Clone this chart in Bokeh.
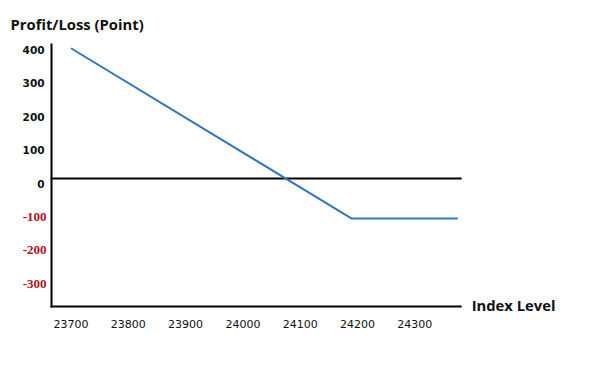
from bokeh.plotting import figure
from bokeh.models import Range1d
from bokeh.core.properties import value
from bokeh.embed import file_html
from bokeh.resources import INLINE

# data
index_level = [23700, 24190, 24375]
profit_loss = [390, -120, -120]
x_ticks = [23700, 23800, 23900, 24000, 24100, 24200, 24300]
y_pos_ticks = [400, 300, 200, 100, 0]
y_neg_ticks = [-100, -200, -300]
title_text = "Profit/Loss (Point)"
x_title_text = "Index Level"

# axis extents (data units) and the visible window around them
AX_X0, AX_X1 = 23666, 24380
AX_Y0, AX_Y1 = -383, 401
VIEW_X = (23577, 24601.4)
VIEW_Y = (-521, 533)

p = figure(width=587, height=352, output_backend="svg", toolbar_location=None,
           x_range=Range1d(*VIEW_X), y_range=Range1d(*VIEW_Y),
           min_border=0)
p.outline_line_color = None
p.xgrid.visible = False
p.ygrid.visible = False
p.axis.visible = False
p.background_fill_color = "white"
p.border_fill_color = "white"

# axes and zero line
p.segment(x0=[AX_X0, AX_X0, AX_X0], y0=[AX_Y0, AX_Y0, 0],
          x1=[AX_X0, AX_X1, AX_X1], y1=[AX_Y1, AX_Y0, 0],
          line_color="black", line_width=2, line_cap="square")

# P/L line
p.line(index_level, profit_loss, line_color="#2f78c4", line_width=2)

# x tick labels
p.text(x=x_ticks, y=[AX_Y0] * len(x_ticks), text=[str(v) for v in x_ticks],
       text_align="center", text_baseline="top", y_offset=14,
       text_font=value("DejaVu Sans"), text_font_size="11px", text_color="#111111")

# y tick labels
p.text(x=[AX_X0] * len(y_pos_ticks), y=y_pos_ticks, text=[str(v) for v in y_pos_ticks],
       text_align="right", text_baseline="middle", x_offset=-7, y_offset=5,
       text_font=value("DejaVu Sans"), text_font_style="bold",
       text_font_size="10.5px", text_color="#111111")
p.text(x=[AX_X0] * len(y_neg_ticks), y=y_neg_ticks, text=[str(v) for v in y_neg_ticks],
       text_align="right", text_baseline="middle", x_offset=-5, y_offset=5,
       text_font=value("Liberation Serif"), text_font_style="bold",
       text_font_size="13px", text_color="#b8101a")

# titles
p.text(x=[AX_X0], y=[AX_Y1], text=[title_text], x_offset=-41, y_offset=-21,
       text_align="left", text_baseline="middle",
       text_font=value("Open Sans"), text_font_style="bold",
       text_font_size="14.8px", text_color="#111111")
p.text(x=[AX_X1], y=[AX_Y0], text=[x_title_text], x_offset=11, y_offset=-1,
       text_align="left", text_baseline="middle",
       text_font=value("Open Sans"), text_font_style="bold",
       text_font_size="14.8px", text_color="#111111")

open("out.html", "w").write(file_html(p, INLINE))
